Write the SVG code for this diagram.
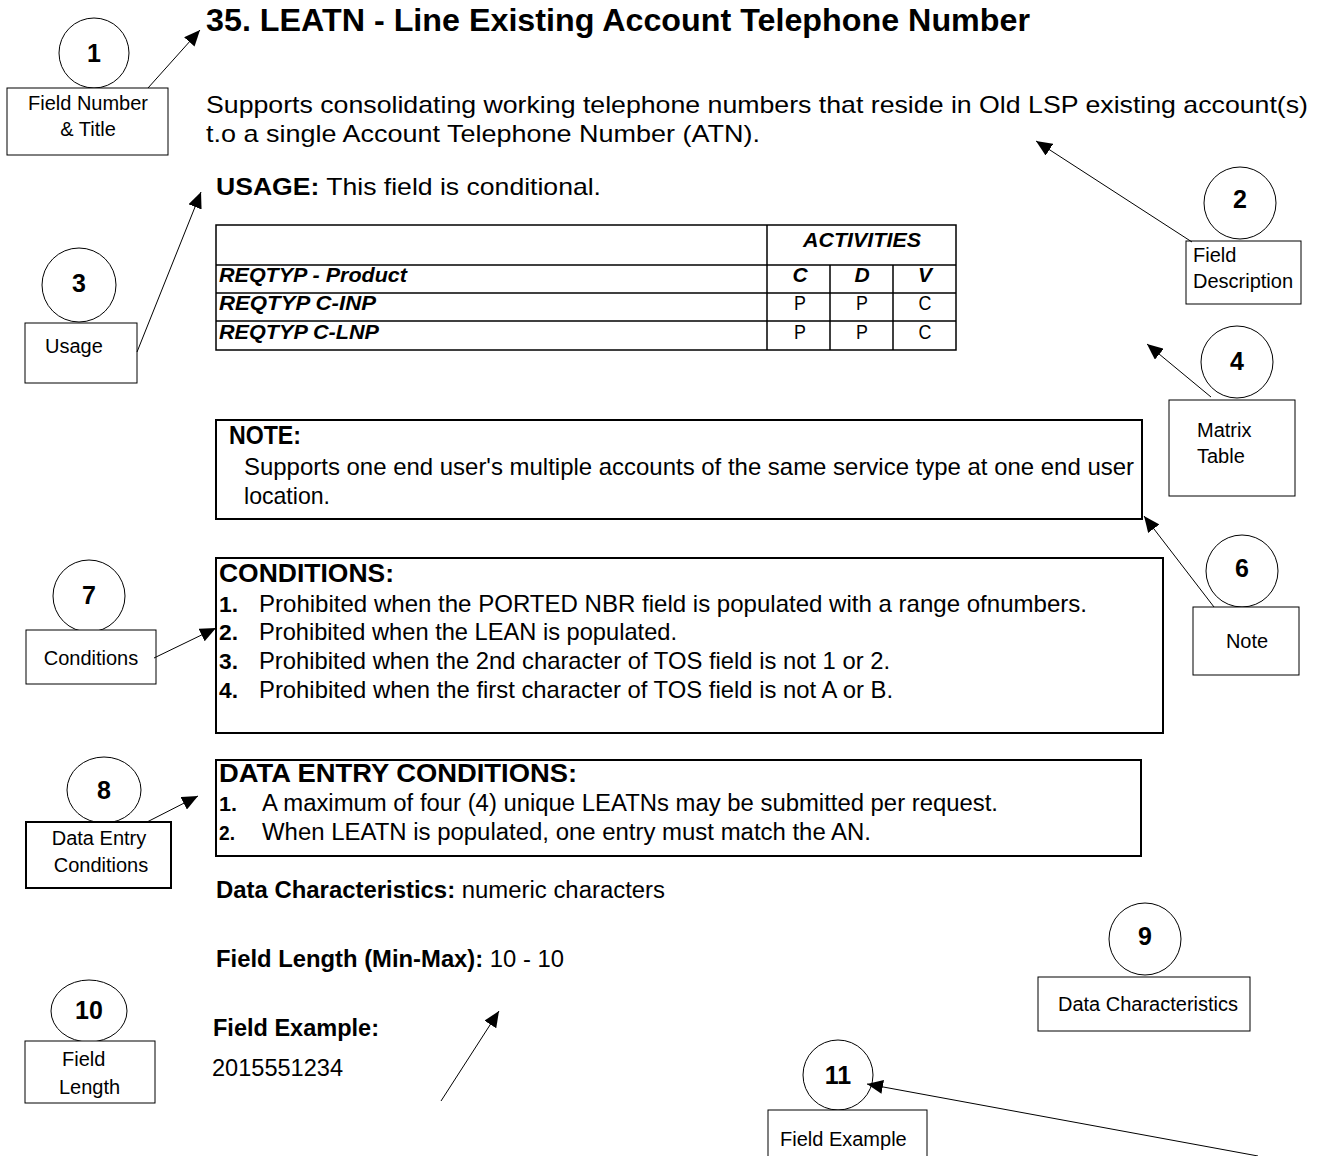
<svg xmlns="http://www.w3.org/2000/svg" width="1319" height="1156" viewBox="0 0 1319 1156">
<style>
text{font-family:"Liberation Sans",Arial,sans-serif;fill:#000}
.b{font-weight:bold}
.bi{font-weight:bold;font-style:italic}
.lbl{font-size:20px}
.num{font-size:25px;font-weight:bold;text-anchor:middle}
.cb{fill:#fff;stroke:#000;stroke-width:1}
.box{fill:none;stroke:#000;stroke-width:2}
.tl{stroke:#000;stroke-width:1.5;fill:none}
.con{stroke:#000;stroke-width:1;fill:none}
.mid{text-anchor:middle}
</style>
<defs>
<marker id="ah" markerUnits="userSpaceOnUse" markerWidth="18" markerHeight="14" refX="16" refY="7" orient="auto">
<path d="M0,0 L16,7 L0,14 z" fill="#000"/>
</marker>
</defs>
<rect width="1319" height="1156" fill="#fff"/>

<g id="title">
<text x="206" y="31" class="b" font-size="32" textLength="824" lengthAdjust="spacingAndGlyphs">35. LEATN - Line Existing Account Telephone Number</text>
</g>
<g id="description">
<text x="206" y="113" font-size="24" textLength="1102" lengthAdjust="spacingAndGlyphs">Supports consolidating working telephone numbers that reside in Old LSP existing account(s)</text>
<text x="206" y="142" font-size="24" textLength="554" lengthAdjust="spacingAndGlyphs">t.o a single Account Telephone Number (ATN).</text>
</g>
<g id="usage">
<text x="216" y="195" font-size="24" textLength="385" lengthAdjust="spacingAndGlyphs"><tspan class="b">USAGE:</tspan> This field is conditional.</text>
</g>

<g id="matrix-table">
<rect x="216" y="225" width="740" height="125" class="tl"/>
<line x1="216" y1="265" x2="956" y2="265" class="tl"/>
<line x1="216" y1="293" x2="956" y2="293" class="tl"/>
<line x1="216" y1="321" x2="956" y2="321" class="tl"/>
<line x1="767" y1="225" x2="767" y2="350" class="tl"/>
<line x1="830" y1="265" x2="830" y2="350" class="tl"/>
<line x1="893" y1="265" x2="893" y2="350" class="tl"/>
<text x="862" y="247" class="bi mid" font-size="21" textLength="118" lengthAdjust="spacingAndGlyphs">ACTIVITIES</text>
<text x="219" y="282" class="bi" font-size="21" textLength="188" lengthAdjust="spacingAndGlyphs">REQTYP - Product</text>
<text x="800" y="282" class="bi mid" font-size="21">C</text>
<text x="862" y="282" class="bi mid" font-size="21">D</text>
<text x="925" y="282" class="bi mid" font-size="21">V</text>
<text x="219" y="310" class="bi" font-size="21" textLength="157" lengthAdjust="spacingAndGlyphs">REQTYP C-INP</text>
<text x="800" y="310" class="mid" font-size="21" transform="translate(800 0) scale(0.85 1) translate(-800 0)">P</text>
<text x="862" y="310" class="mid" font-size="21" transform="translate(862 0) scale(0.85 1) translate(-862 0)">P</text>
<text x="925" y="310" class="mid" font-size="21" transform="translate(925 0) scale(0.85 1) translate(-925 0)">C</text>
<text x="219" y="339" class="bi" font-size="21" textLength="160" lengthAdjust="spacingAndGlyphs">REQTYP C-LNP</text>
<text x="800" y="339" class="mid" font-size="21" transform="translate(800 0) scale(0.85 1) translate(-800 0)">P</text>
<text x="862" y="339" class="mid" font-size="21" transform="translate(862 0) scale(0.85 1) translate(-862 0)">P</text>
<text x="925" y="339" class="mid" font-size="21" transform="translate(925 0) scale(0.85 1) translate(-925 0)">C</text>
</g>

<g id="note-box">
<rect x="216" y="420" width="926" height="99" class="box"/>
<text x="229" y="444" class="b" font-size="25" textLength="72" lengthAdjust="spacingAndGlyphs">NOTE:</text>
<text x="244" y="475" font-size="24" textLength="890" lengthAdjust="spacingAndGlyphs">Supports one end user's multiple accounts of the same service type at one end user</text>
<text x="244" y="504" font-size="24" textLength="86" lengthAdjust="spacingAndGlyphs">location.</text>
</g>

<g id="conditions-box">
<rect x="216" y="558" width="947" height="175" class="box"/>
<text x="219" y="582" class="b" font-size="25" textLength="175" lengthAdjust="spacingAndGlyphs">CONDITIONS:</text>
<text x="219" y="612" class="b" font-size="22" textLength="19" lengthAdjust="spacingAndGlyphs">1.</text>
<text x="259" y="612" font-size="24" textLength="828" lengthAdjust="spacingAndGlyphs">Prohibited when the PORTED NBR field is populated with a range ofnumbers.</text>
<text x="219" y="640" class="b" font-size="22" textLength="19" lengthAdjust="spacingAndGlyphs">2.</text>
<text x="259" y="640" font-size="24" textLength="418" lengthAdjust="spacingAndGlyphs">Prohibited when the LEAN is populated.</text>
<text x="219" y="669" class="b" font-size="22" textLength="19" lengthAdjust="spacingAndGlyphs">3.</text>
<text x="259" y="669" font-size="24" textLength="631" lengthAdjust="spacingAndGlyphs">Prohibited when the 2nd character of TOS field is not 1 or 2.</text>
<text x="219" y="698" class="b" font-size="22" textLength="19" lengthAdjust="spacingAndGlyphs">4.</text>
<text x="259" y="698" font-size="24" textLength="634" lengthAdjust="spacingAndGlyphs">Prohibited when the first character of TOS field is not A or B.</text>
</g>

<g id="data-entry-box">
<rect x="216" y="760" width="925" height="96" class="box"/>
<text x="219" y="782" class="b" font-size="25" textLength="358" lengthAdjust="spacingAndGlyphs">DATA ENTRY CONDITIONS:</text>
<text x="219" y="811" class="b" font-size="21" textLength="18" lengthAdjust="spacingAndGlyphs">1.</text>
<text x="262" y="811" font-size="23" textLength="736" lengthAdjust="spacingAndGlyphs">A maximum of four (4) unique LEATNs may be submitted per request.</text>
<text x="219" y="840" class="b" font-size="21" textLength="16" lengthAdjust="spacingAndGlyphs">2.</text>
<text x="262" y="840" font-size="23" textLength="609" lengthAdjust="spacingAndGlyphs">When LEATN is populated, one entry must match the AN.</text>
</g>

<g id="data-characteristics">
<text x="216" y="898" font-size="23" textLength="449" lengthAdjust="spacingAndGlyphs"><tspan class="b">Data Characteristics:</tspan> numeric characters</text>
</g>
<g id="field-length">
<text x="216" y="967" font-size="23" textLength="348" lengthAdjust="spacingAndGlyphs"><tspan class="b">Field Length (Min-Max):</tspan> 10 - 10</text>
</g>
<g id="field-example">
<text x="213" y="1036" class="b" font-size="23" textLength="166" lengthAdjust="spacingAndGlyphs">Field Example:</text>
<text x="212" y="1076" font-size="23" textLength="131" lengthAdjust="spacingAndGlyphs">2015551234</text>
</g>

<g id="callout-1">
<circle cx="94" cy="53" r="35" class="cb"/>
<text x="94" y="62" class="num">1</text>
<rect x="7" y="88" width="161" height="67" class="cb"/>
<text x="88" y="110" class="lbl mid">Field Number</text>
<text x="88" y="136" class="lbl mid">&amp; Title</text>
</g>
<g id="callout-2">
<circle cx="1240" cy="203" r="36" class="cb"/>
<text x="1240" y="208" class="num">2</text>
<rect x="1186" y="241" width="115" height="63" class="cb"/>
<text x="1193" y="262" class="lbl">Field</text>
<text x="1193" y="288" class="lbl">Description</text>
</g>
<g id="callout-3">
<circle cx="79" cy="285" r="37" class="cb"/>
<text x="79" y="292" class="num">3</text>
<rect x="25" y="323" width="112" height="60" class="cb"/>
<text x="45" y="353" class="lbl">Usage</text>
</g>
<g id="callout-4">
<circle cx="1237" cy="362" r="36" class="cb"/>
<text x="1237" y="370" class="num">4</text>
<rect x="1169" y="400" width="126" height="96" class="cb"/>
<text x="1197" y="437" class="lbl">Matrix</text>
<text x="1197" y="463" class="lbl">Table</text>
</g>
<g id="callout-6">
<circle cx="1242" cy="571" r="36" class="cb"/>
<text x="1242" y="577" class="num">6</text>
<rect x="1193" y="607" width="106" height="68" class="cb"/>
<text x="1247" y="648" class="lbl mid">Note</text>
</g>
<g id="callout-7">
<circle cx="89" cy="596" r="36" class="cb"/>
<text x="89" y="604" class="num">7</text>
<rect x="26" y="630" width="130" height="54" class="cb"/>
<text x="91" y="665" class="lbl mid">Conditions</text>
</g>
<g id="callout-8">
<ellipse cx="104" cy="790" rx="37" ry="33" class="cb"/>
<text x="104" y="799" class="num">8</text>
<rect x="26" y="822" width="145" height="66" class="box" style="fill:#fff"/>
<text x="99" y="845" class="lbl mid">Data Entry</text>
<text x="101" y="872" class="lbl mid">Conditions</text>
</g>
<g id="callout-9">
<circle cx="1145" cy="939" r="36" class="cb"/>
<text x="1145" y="945" class="num">9</text>
<rect x="1038" y="977" width="212" height="54" class="cb"/>
<text x="1148" y="1011" class="lbl mid">Data Characteristics</text>
</g>
<g id="callout-10">
<ellipse cx="89" cy="1011" rx="38" ry="31" class="cb"/>
<text x="89" y="1019" class="num">10</text>
<rect x="25" y="1041" width="130" height="62" class="cb"/>
<text x="62" y="1066" class="lbl">Field</text>
<text x="59" y="1094" class="lbl">Length</text>
</g>
<g id="callout-11">
<circle cx="838" cy="1075" r="35" class="cb"/>
<text x="838" y="1084" class="num">11</text>
<rect x="768" y="1110" width="159" height="50" class="cb"/>
<text x="780" y="1146" class="lbl">Field Example</text>
</g>

<g id="connectors">
<line x1="148" y1="88" x2="200" y2="30" class="con" marker-end="url(#ah)"/>
<line x1="1192" y1="242" x2="1036" y2="141" class="con" marker-end="url(#ah)"/>
<line x1="137" y1="352" x2="201" y2="192" class="con" marker-end="url(#ah)"/>
<line x1="1211" y1="397" x2="1147" y2="344" class="con" marker-end="url(#ah)"/>
<line x1="1214" y1="607" x2="1144" y2="516" class="con" marker-end="url(#ah)"/>
<line x1="154" y1="658" x2="216" y2="628" class="con" marker-end="url(#ah)"/>
<line x1="147" y1="822" x2="198" y2="796" class="con" marker-end="url(#ah)"/>
<line x1="441" y1="1101" x2="499" y2="1011" class="con" marker-end="url(#ah)"/>
<line x1="1258" y1="1156" x2="867" y2="1084" class="con" marker-end="url(#ah)"/>
</g>
</svg>
